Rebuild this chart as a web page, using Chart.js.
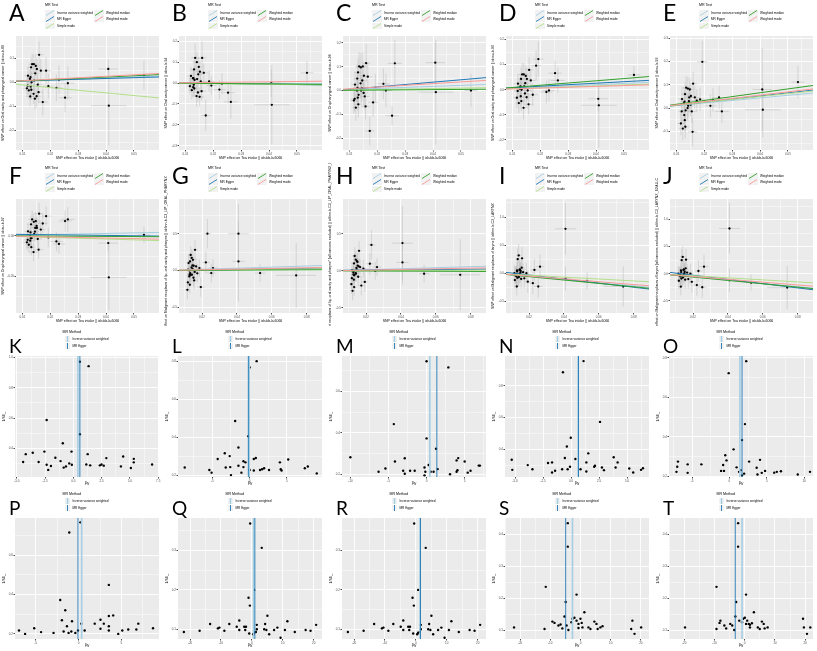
<!DOCTYPE html>
<html>
<head>
<meta charset="utf-8">
<title>MR scatter and funnel plots</title>
<script src="https://cdn.jsdelivr.net/npm/chart.js@4.4.1/dist/chart.umd.min.js"></script>
<style>
  html, body { margin: 0; padding: 0; background: #fff; }
  #fig { position: relative; width: 817px; height: 651px; overflow: hidden; font-family: 'Liberation Sans', Arial, sans-serif; }
  .panel { position: absolute; width: 163px; height: 163px; overflow: hidden; }
  .panel canvas { position: absolute; left: 0; top: 0; }
  .letter { position: absolute; left: 9px; font-family: Lato, 'Open Sans', sans-serif; color: #000; }
  .lg { position: absolute; white-space: nowrap; color: #000; }
  .lg-title { font-size: 3.6px; line-height: 4px; }
  .lg-text { font-size: 3.1px; line-height: 6px; }
  .lg svg { display: block; }
</style>
</head>
<body>
<div id="fig"></div>
<script>
// exposure: SNP effect on Tea intake (ukb-b-6066), panels A-F
const teaBeta = [0.0160, 0.0135, 0.0141, 0.0148, 0.0131, 0.0152, 0.0166, 0.0185, 0.0146, 0.0120, 0.0129, 0.0127, 0.0142, 0.0133, 0.0155, 0.0119, 0.0130, 0.0193, 0.0116, 0.0132, 0.0123, 0.0158, 0.0140, 0.0151, 0.0128, 0.0145, 0.0173, 0.0231, 0.0222, 0.0263, 0.0253, 0.0408, 0.0410, 0.0536];
const teaSe = [0.0015, 0.0014, 0.0015, 0.0016, 0.0014, 0.0016, 0.0017, 0.0018, 0.0015, 0.0013, 0.0014, 0.0014, 0.0015, 0.0014, 0.0016, 0.0013, 0.0014, 0.0019, 0.0013, 0.0014, 0.0013, 0.0016, 0.0015, 0.0016, 0.0014, 0.0015, 0.0017, 0.0022, 0.0022, 0.0025, 0.0024, 0.0035, 0.0064, 0.0023];
// FinnGen outcomes (G-J) keep one more SNP
const teaBetaFinn = [0.0160, 0.0135, 0.0141, 0.0148, 0.0131, 0.0152, 0.0166, 0.0185, 0.0146, 0.0120, 0.0129, 0.0127, 0.0142, 0.0133, 0.0155, 0.0119, 0.0130, 0.0193, 0.0116, 0.0132, 0.0123, 0.0158, 0.0140, 0.0151, 0.0128, 0.0145, 0.0173, 0.0231, 0.0222, 0.0263, 0.0253, 0.0409, 0.0409, 0.0533, 0.0740];
const teaSeFinn = [0.0015, 0.0014, 0.0015, 0.0016, 0.0014, 0.0016, 0.0017, 0.0018, 0.0015, 0.0013, 0.0014, 0.0014, 0.0015, 0.0014, 0.0016, 0.0013, 0.0014, 0.0019, 0.0013, 0.0014, 0.0013, 0.0016, 0.0015, 0.0016, 0.0014, 0.0015, 0.0017, 0.0022, 0.0022, 0.0025, 0.0024, 0.0060, 0.0035, 0.0030, 0.0115];

// outcome SNP effects
const outBetaA = [0.114, 0.075, 0.075, 0.068, 0.062, 0.055, 0.048, 0.048, 0.037, 0.027, 0.021, 0.014, 0.007, 0.000, -0.010, -0.014, -0.018, -0.016, -0.025, -0.031, -0.034, -0.041, -0.048, -0.058, -0.059, -0.068, -0.082, 0.010, -0.023, -0.004, -0.064, 0.055, -0.097, 0.029];
const outSeA = [0.055, 0.045, 0.040, 0.042, 0.040, 0.045, 0.050, 0.055, 0.040, 0.038, 0.040, 0.038, 0.042, 0.040, 0.045, 0.038, 0.040, 0.050, 0.036, 0.040, 0.038, 0.045, 0.042, 0.045, 0.040, 0.045, 0.055, 0.060, 0.055, 0.070, 0.060, 0.040, 0.165, 0.060];
const outBetaB = [0.12, 0.12, 0.10, 0.077, 0.065, 0.054, 0.049, 0.008, 0.042, 0.034, 0.023, 0.023, 0.019, 0.015, 0.008, 0.0, -0.008, -0.012, -0.015, -0.026, -0.034, -0.039, -0.062, -0.066, -0.02, -0.045, -0.155, -0.003, -0.031, -0.09, -0.046, 0.0, -0.104, 0.049];
const outSeB = [0.08, 0.07, 0.05, 0.045, 0.045, 0.045, 0.045, 0.05, 0.04, 0.045, 0.04, 0.045, 0.04, 0.04, 0.045, 0.04, 0.045, 0.045, 0.04, 0.04, 0.045, 0.045, 0.05, 0.045, 0.045, 0.045, 0.075, 0.05, 0.045, 0.08, 0.05, 0.065, 0.19, 0.055];
const outBetaC = [0.115, 0.101, 0.097, 0.101, 0.076, 0.062, 0.058, -0.05, 0.042, 0.025, 0.011, 0, 0, -0.018, -0.025, -0.035, -0.03, 0.01, -0.042, -0.058, -0.072, -0.067, 0.03, -0.01, 0.05, 0.01, -0.17, 0.0, 0.028, 0.114, -0.106, 0.117, -0.007, 0.0];
const outSeC = [0.08, 0.06, 0.06, 0.06, 0.06, 0.06, 0.06, 0.06, 0.055, 0.055, 0.06, 0.055, 0.055, 0.055, 0.055, 0.055, 0.055, 0.06, 0.055, 0.055, 0.055, 0.055, 0.06, 0.055, 0.06, 0.055, 0.06, 0.07, 0.065, 0.1, 0.04, 0.085, 0.22, 0.07];
const outBetaD = [0.079, 0.061, 0.061, 0.055, 0.043, 0.043, 0.037, 0.096, 0.026, 0.024, 0.013, 0.004, 0.013, 0, -0.003, -0.005, -0.026, 0.122, -0.032, -0.045, -0.053, -0.058, -0.072, -0.03, 0.01, -0.015, -0.02, -0.003, -0.009, 0.037, 0.066, -0.036, -0.062, 0.059];
const outSeD = [0.05, 0.045, 0.045, 0.045, 0.045, 0.045, 0.045, 0.06, 0.04, 0.04, 0.045, 0.04, 0.04, 0.04, 0.04, 0.04, 0.04, 0.07, 0.04, 0.04, 0.04, 0.04, 0.045, 0.04, 0.04, 0.04, 0.045, 0.045, 0.045, 0.05, 0.05, 0.05, 0.17, 0.035];
const outBetaE = [0.105, 0.088, 0.084, 0.08, 0.06, 0.052, 0.046, 0.038, 0.046, 0.039, 0.028, 0.021, 0.01, -0.01, -0.014, -0.014, -0.052, 0.199, -0.066, -0.08, -0.088, -0.102, 0.0, 0.015, -0.03, 0.03, 0.032, 0.035, 0.01, -0.014, 0.046, 0.08, -0.007, 0.112];
const outSeE = [0.05, 0.05, 0.05, 0.05, 0.05, 0.05, 0.05, 0.05, 0.05, 0.05, 0.05, 0.05, 0.05, 0.05, 0.05, 0.05, 0.05, 0.09, 0.05, 0.05, 0.05, 0.06, 0.05, 0.05, 0.05, 0.05, 0.05, 0.05, 0.05, 0.05, 0.05, 0.18, 0.12, 0.07];
const outBetaF = [0.027, 0.020, 0.017, 0.018, 0.014, 0.0096, 0.0075, 0.024, 0.0096, 0.0054, 0.0042, 0, 0.002, -0.003, -0.004, -0.005, -0.003, -0.002, -0.008, -0.014, -0.011, -0.017, -0.02, 0.012, -0.006, 0.005, 0.015, -0.010, -0.007, 0.020, 0.018, -0.009, -0.051, 0.001];
const outSeF = [0.013, 0.011, 0.011, 0.011, 0.011, 0.011, 0.011, 0.012, 0.011, 0.01, 0.01, 0.01, 0.01, 0.01, 0.011, 0.01, 0.01, 0.012, 0.01, 0.01, 0.01, 0.011, 0.011, 0.011, 0.01, 0.011, 0.012, 0.012, 0.012, 0.015, 0.013, 0.01, 0.04, 0.01];
const outBetaG = [0.28, 0.21, 0.17, 0.145, 0.123, 0.064, 0.055, 0.032, 0.018, 0.009, -0.059, -0.082, -0.059, -0.059, -0.136, -0.164, -0.195, -0.227, -0.264, -0.036, 0.1, -0.02, 0.04, -0.1, 0.0, 0.07, -0.04, 0.5, 0.109, 0.032, -0.036, 0.5, 0.123, -0.036, -0.068];
const outSeG = [0.13, 0.12, 0.12, 0.12, 0.12, 0.11, 0.11, 0.12, 0.11, 0.11, 0.11, 0.11, 0.11, 0.11, 0.12, 0.12, 0.12, 0.13, 0.13, 0.12, 0.12, 0.11, 0.11, 0.12, 0.11, 0.12, 0.13, 0.2, 0.15, 0.12, 0.13, 0.4, 0.55, 0.12, 0.44];
const outBetaH = [0.27, 0.2, 0.15, 0.13, 0.1, 0.07, 0.05, 0.03, 0.02, 0.01, 0.0, -0.02, -0.04, -0.06, -0.08, -0.1, -0.12, -0.15, -0.18, -0.22, -0.27, 0.06, -0.03, 0.12, -0.05, 0.04, -0.2, 0.35, 0.095, 0.05, 0.0, 0.374, 0.113, -0.04, -0.054];
const outSeH = [0.13, 0.12, 0.12, 0.12, 0.12, 0.11, 0.11, 0.12, 0.11, 0.11, 0.11, 0.11, 0.11, 0.11, 0.12, 0.12, 0.12, 0.13, 0.13, 0.12, 0.13, 0.11, 0.11, 0.12, 0.11, 0.12, 0.13, 0.2, 0.15, 0.12, 0.12, 0.5, 0.3, 0.12, 0.48];
const outBetaI = [0.265, 0.25, 0.318, 0.07, 0.05, 0.04, 0.02, 0.0, -0.01, -0.02, -0.03, -0.05, -0.06, -0.08, -0.1, -0.12, -0.235, -0.15, 0.0, 0.03, -0.04, 0.1, -0.07, 0.01, -0.02, 0.06, -0.09, 0.06, -0.176, 0.118, -0.235, 0.79, -0.094, -0.135, -0.235];
const outSeI = [0.2, 0.2, 0.2, 0.17, 0.17, 0.16, 0.16, 0.18, 0.16, 0.15, 0.16, 0.16, 0.16, 0.16, 0.17, 0.15, 0.16, 0.2, 0.15, 0.16, 0.15, 0.17, 0.16, 0.17, 0.16, 0.16, 0.18, 0.2, 0.2, 0.22, 0.2, 0.46, 0.22, 0.15, 0.36];
const outBetaJ = [0.26, 0.25, 0.31, 0.08, 0.06, 0.04, 0.02, 0.0, -0.01, -0.02, -0.04, -0.05, -0.07, -0.09, -0.11, -0.13, -0.24, -0.15, 0.0, 0.03, -0.03, 0.1, -0.06, 0.01, -0.02, 0.07, -0.1, 0.05, -0.21, 0.13, -0.25, 0.835, -0.122, -0.165, -0.257];
const outSeJ = [0.2, 0.2, 0.2, 0.17, 0.17, 0.16, 0.16, 0.18, 0.16, 0.15, 0.16, 0.16, 0.16, 0.16, 0.17, 0.15, 0.16, 0.2, 0.15, 0.16, 0.15, 0.17, 0.16, 0.17, 0.16, 0.16, 0.18, 0.2, 0.2, 0.22, 0.2, 0.47, 0.22, 0.15, 0.4];

// MR estimates for A-J (lines)
const ivwSlope = [0.44, -0.05, 0.43, 0.5, 1.1, 0.07, 0.75, 0.7, -2.8, -3.0];
const eggerSlope = [0.33, -0.2, 1.0, 0.6, 1.33, -0.04, 0.4, 0.2, -3.6, -3.9];
const eggerIntercept = [0.0025, 0.003, -0.005, 0.002, -0.001, 0.002, -0.005, 0.005, 0.04, 0.05];
const simpleModeSlope = [-1.1, -0.15, 0.2, 0.38, 1.25, -0.1, 0.25, 0.1, -1.7, -1.9];
const weightedMedianSlope = [0.54, -0.1, 0.09, 0.89, 1.65, -0.02, 0.1, -0.1, -3.0, -3.1];
const weightedModeSlope = [0.62, 0.15, 0.72, 0.33, 1.4, -0.07, 0.45, 0.45, -2.5, -2.6];

// axes A-J
const ieuXRange = [0.0077, 0.0590];
const ieuXTicks = [0.01, 0.02, 0.03, 0.04, 0.05];
const finnXRange = [0.0068, 0.0888];
const finnXTicks = [0.02, 0.04, 0.06, 0.08];
const scatterYMin = [-0.281, -0.32, -0.25, -0.24, -0.18, -0.0946, -0.58, -0.57, -0.706, -0.726];
const scatterYMax = [0.192, 0.225, 0.229, 0.214, 0.31, 0.045, 0.973, 0.97, 1.32, 1.38];
const scatterYTicks = [[-0.2, -0.1, 0, 0.1], [-0.3, -0.2, -0.1, 0, 0.1, 0.2], [-0.2, -0.1, 0, 0.1, 0.2], [-0.2, -0.1, 0, 0.1, 0.2], [-0.1, 0, 0.1, 0.2, 0.3], [-0.05, 0], [-0.5, 0, 0.5], [-0.5, 0, 0.5], [-0.5, 0, 0.5, 1.0], [-0.5, 0, 0.5, 1.0]];
const scatterYDecimals = [1, 1, 1, 1, 1, 2, 1, 1, 1, 1];
const scatterLetters = ['A', 'B', 'C', 'D', 'E', 'F', 'G', 'H', 'I', 'J'];
const outcomeLabels = [
  'SNP effect on Oral cavity and pharyngeal cancer || id:ieu-b-89',
  'SNP effect on Oral cavity cancer || id:ieu-b-94',
  'SNP effect on Oropharyngeal cancer || id:ieu-b-96',
  'SNP effect on Oral cavity and pharyngeal cancer || id:ieu-b-90',
  'SNP effect on Oral cavity cancer || id:ieu-b-93',
  'SNP effect on Oropharyngeal cancer || id:ieu-b-97',
  'SNP effect on Malignant neoplasm of lip, oral cavity and pharynx || id:finn-b-C3_LIP_ORAL_PHARYNX',
  'SNP effect on Malignant neoplasm of lip, oral cavity and pharynx* (all cancers excluded) || id:finn-b-C3_LIP_ORAL_PHARYNX_EXALLC',
  'SNP effect on Malignant neoplasm of larynx || id:finn-b-C3_LARYNX',
  'SNP effect on Malignant neoplasm of larynx (all cancers excluded) || id:finn-b-C3_LARYNX_EXALLC'
];
const exposureLabel = 'SNP effect on Tea intake || id:ukb-b-6066';

// funnel plots K-T: beta_IV and 1/SE_IV
const funnelBetaK = [0.57, 1.34, -2.37, 0.57, -0.94, -2.57, -0.17, 1.26, -4.22, -3.6, -1.6, 2.91, 4.4, 5.34, 5.34, -4.45, -3.08, -1.14, -0.37, -0.14, -2.37, -1.99, -2.23, -0.86, -0.66, 1.14, 1.48, 2.34, 2.48, 2.68, 4.2, 5.08, 6.96];
const funnelPrecK = [0.972, 0.943, 0.587, 0.493, 0.433, 0.378, 0.378, 0.361, 0.361, 0.37, 0.337, 0.335, 0.346, 0.33, 0.307, 0.309, 0.309, 0.315, 0.3, 0.291, 0.291, 0.283, 0.257, 0.272, 0.28, 0.293, 0.287, 0.287, 0.293, 0.285, 0.28, 0.27, 0.293];
const funnelBetaL = [0.94, 0, -1.94, -0.17, -1.5, -3.33, -4.28, -2.67, -0.83, -0.56, 0.83, 0.56, 4.06, 5.17, -8.7, -5.4, -5.1, -3.2, -2.5, -2.6, -1.5, -1.1, -0.83, 0, 0.56, 1.39, 1.67, 1.94, 2.6, 4.17, 4.28, 7.4, 7.8, 9.0];
const funnelPrecL = [0.8, 0.767, 0.485, 0.405, 0.345, 0.315, 0.285, 0.3, 0.273, 0.267, 0.29, 0.285, 0.267, 0.282, 0.24, 0.227, 0.213, 0.24, 0.2, 0.242, 0.249, 0.213, 0.242, 0.227, 0.224, 0.227, 0.231, 0.236, 0.227, 0.231, 0.224, 0.236, 0.245, 0.209];
const funnelBetaM = [0, 2.86, -4.3, 0, 1.24, -10, -4.15, -2.86, -6.3, -5.4, -3.07, -2.86, -2.16, -1.56, -0.27, -0.16, 0.27, 0.54, 0.92, -0.27, 1.46, 3.08, 3.94, 4.05, 3.94, 4.15, 5.0, 5.4, 5.77, 6.85, 7.0];
const funnelPrecM = [0.745, 0.715, 0.442, 0.373, 0.323, 0.282, 0.262, 0.277, 0.212, 0.228, 0.217, 0.203, 0.217, 0.217, 0.233, 0.212, 0.245, 0.212, 0.212, 0.195, 0.225, 0.2, 0.212, 0.22, 0.267, 0.278, 0.262, 0.208, 0.217, 0.242, 0.242];
const funnelBetaN = [1.11, -0.73, 2.58, -0.03, -0.38, 1.53, 0.38, 1.36, 3.8, 4.15, -5.3, -3.87, -2.06, -1.7, -0.56, -0.1, -0.31, -0.8, -1.43, -1.7, -5.25, -3.45, 0.84, 1.36, 2.06, 2.13, 2.75, 2.93, 3.97, 5.19, 5.54, 6.24, 6.41];
const funnelPrecN = [0.955, 0.885, 0.572, 0.472, 0.417, 0.374, 0.338, 0.317, 0.349, 0.317, 0.334, 0.3, 0.313, 0.317, 0.345, 0.29, 0.274, 0.274, 0.264, 0.253, 0.27, 0.274, 0.274, 0.26, 0.29, 0.296, 0.285, 0.268, 0.285, 0.279, 0.253, 0.27, 0.28];
const funnelBetaO = [2.25, -0.1, 2.08, 1.69, 0.56, -0.56, -0.39, -0.84, -1.12, -0.73, 0.96, 1.29, 1.52, 1.97, 2.64, 3.65, 3.76, 4.1, 4.33, 4.78, 1.69, -6.9, -7.0, -7.1, -5.6, -5.6, -3.76, 6.0, 6.35, 6.9, 9.16, 10.8];
const funnelPrecO = [0.784, 0.723, 0.465, 0.384, 0.337, 0.307, 0.281, 0.258, 0.228, 0.228, 0.246, 0.223, 0.232, 0.214, 0.275, 0.244, 0.21, 0.284, 0.218, 0.228, 0.205, 0.275, 0.249, 0.223, 0.261, 0.218, 0.261, 0.219, 0.223, 0.226, 0.21, 0.223];
const funnelBetaP = [0.2, -1.1, 3.53, -2.16, -1.57, -1.96, 3.53, 4.04, -1.37, -0.78, 0.31, 1.88, 2.55, 2.94, 3.53, 3.53, 2.55, -1.76, -1.18, -0.86, -0.39, -0.08, 0.7, -6.98, -6.27, -5.2, -4.4, -2.94, 4.63, 5.1, 5.8, 6.75, 6.98, 8.7];
const funnelPrecP = [0.767, 0.715, 0.449, 0.372, 0.32, 0.269, 0.291, 0.294, 0.239, 0.264, 0.252, 0.252, 0.272, 0.252, 0.239, 0.217, 0.226, 0.212, 0.205, 0.212, 0.205, 0.217, 0.217, 0.217, 0.2, 0.229, 0.209, 0.205, 0.2, 0.217, 0.222, 0.222, 0.252, 0.229];
const funnelBetaQ = [-0.54, 3.2, 0.75, -1.07, -0.64, 5.04, -4.07, -13.5, 11.5, -7.3, 4.3, -2.47, -1.9, -4.9, 1.6, -10.5, -11, 8.26, 4.0, 4.7, 1.6, -4.07, -2.14, -8.9, -16.9, 7.2, 10.7, 17.4, 19, 20.8, -0.86, 0.43, 1.3, 0.75, 5.6, 9.3, 13.9, -22];
const funnelPrecQ = [0.369, 0.307, 0.2, 0.18, 0.16, 0.134, 0.122, 0.113, 0.12, 0.113, 0.113, 0.106, 0.106, 0.106, 0.111, 0.104, 0.102, 0.104, 0.1, 0.098, 0.1, 0.098, 0.098, 0.096, 0.096, 0.098, 0.098, 0.098, 0.096, 0.111, 0.089, 0.087, 0.093, 0.091, 0.087, 0.078, 0.093, 0.093];
// R shows the same SNP estimates as Q
const funnelBetaR = funnelBetaQ;
const funnelPrecR = funnelPrecQ;
const funnelBetaS = [-4.2, -4.2, -11.5, -1.3, -4.9, 1.3, -5.3, -9.3, -8.6, -2.65, -2.0, -3.0, -1.3, -0.66, 0, 0.4, -7.3, -6.6, -6.0, -4.6, -4.0, 0.66, 2.65, 4.6, 5.3, 3.3, 5.7, 6.6, 7.3, -0.66, -11.9, -22, 17.2, 16.8, 17.9, 20.1];
const funnelPrecS = [0.434, 0.361, 0.236, 0.212, 0.189, 0.157, 0.144, 0.128, 0.124, 0.137, 0.14, 0.126, 0.131, 0.121, 0.137, 0.124, 0.116, 0.119, 0.107, 0.116, 0.102, 0.11, 0.11, 0.128, 0.121, 0.105, 0.105, 0.11, 0.114, 0.108, 0.105, 0.11, 0.131, 0.105, 0.09, 0.11];
const funnelBetaT = [-2.15, -2.15, -9.3, 0.46, -2.8, 3.06, -3.06, -8.0, -8.3, -0.46, 0.07, -0.85, 0.85, 1.76, -1.76, 0.46, -6.7, -4.75, -6.1, -4.1, -3.45, 1.76, 4.36, 5.7, 6.3, 5.0, 6.6, 7.6, -9.3, -19.7, 19.3, 19.6, 20.6, 21.7, 1.37, 2.4];
const funnelPrecT = [0.434, 0.361, 0.236, 0.212, 0.189, 0.157, 0.144, 0.131, 0.124, 0.137, 0.14, 0.126, 0.131, 0.118, 0.131, 0.121, 0.116, 0.121, 0.107, 0.116, 0.102, 0.11, 0.11, 0.128, 0.121, 0.105, 0.107, 0.11, 0.105, 0.11, 0.137, 0.11, 0.09, 0.11, 0.121, 0.123];

const funnelIvw = [0.4, -0.05, 0.43, 0.62, 1.4, 0.35, 0.54, 1.35, -2.65, -0.85];
const funnelEgger = [0.57, -0.17, 1.35, 0.66, 1.69, -0.08, 0.97, 1.5, -4.9, -3.1];

// axes K-T
const funnelLetters = ['K', 'L', 'M', 'N', 'O', 'P', 'Q', 'R', 'S', 'T'];
const funnelXMin = [-5.17, -9.6, -11.1, -5.9, -8.1, -7.45, -23.9, -23.9, -25, -25];
const funnelXMax = [7.57, 9.7, 7.8, 6.95, 11.2, 9.4, 22.7, 22.7, 22.7, 22.6];
const funnelXTicks = [[-5, -2.5, 0, 2.5, 5, 7.5], [-5, 0, 5], [-10, -5, 0, 5], [-5, -2.5, 0, 2.5, 5], [-5, 0, 5, 10], [-5, 0, 5], [-20, -10, 0, 10, 20], [-20, -10, 0, 10, 20], [-20, -10, 0, 10, 20], [-20, -10, 0, 10, 20]];
const funnelXDecimals = [1, 0, 0, 1, 0, 0, 0, 0, 0, 0];
const funnelYMin = [0.21, 0.19, 0.187, 0.225, 0.197, 0.174, 0.075, 0.075, 0.074, 0.074];
const funnelYMax = [1.01, 0.827, 0.77, 0.987, 0.81, 0.789, 0.383, 0.383, 0.45, 0.45];
const funnelYTicks = [[0.4, 0.6, 0.8, 1.0], [0.2, 0.4, 0.6, 0.8], [0.2, 0.4, 0.6], [0.4, 0.6, 0.8], [0.2, 0.4, 0.6, 0.8], [0.2, 0.4, 0.6], [0.1, 0.2, 0.3], [0.1, 0.2, 0.3], [0.1, 0.2, 0.3, 0.4], [0.1, 0.2, 0.3, 0.4]];

const methodNames = ['Inverse variance weighted', 'MR Egger', 'Simple mode', 'Weighted median', 'Weighted mode'];
const methodColours = ['#a6cee3', '#1f78b4', '#b2df8a', '#33a02c', '#fb9a99'];

const outBeta = [outBetaA, outBetaB, outBetaC, outBetaD, outBetaE, outBetaF, outBetaG, outBetaH, outBetaI, outBetaJ];
const outSe = [outSeA, outSeB, outSeC, outSeD, outSeE, outSeF, outSeG, outSeH, outSeI, outSeJ];
const funnelBeta = [funnelBetaK, funnelBetaL, funnelBetaM, funnelBetaN, funnelBetaO, funnelBetaP, funnelBetaQ, funnelBetaR, funnelBetaS, funnelBetaT];
const funnelPrec = [funnelPrecK, funnelPrecL, funnelPrecM, funnelPrecN, funnelPrecO, funnelPrecP, funnelPrecQ, funnelPrecR, funnelPrecS, funnelPrecT];

const FONT = "'Liberation Sans', Arial, sans-serif";
const fig = document.getElementById('fig');

// ggplot style: major + minor breaks
function gridTicks(min, max, majors) {
  const half = (majors[1] - majors[0]) / 2;
  const out = [];
  const k0 = Math.ceil((min - majors[0]) / half - 1e-6);
  const k1 = Math.floor((max - majors[0]) / half + 1e-6);
  for (let k = k0; k <= k1; k++) {
    let v = majors[0] + k * half;
    if (Math.abs(v) < 1e-9) v = 0;
    out.push({ value: v, isMajor: k % 2 === 0 });
  }
  return out;
}

function axis(min, max, majors, decimals, title, isX, fit) {
  return {
    type: 'linear', min: min, max: max,
    afterBuildTicks: s => { s.ticks = gridTicks(min, max, majors); },
    afterFit: s => {
      if (isX) { s.height = fit; s.paddingLeft = 0; s.paddingRight = 0; }
      else { s.width = fit; s.paddingTop = 0; s.paddingBottom = 0; }
    },
    border: { display: false },
    grid: {
      color: '#FFFFFF',
      lineWidth: c => (c.tick && c.tick.isMajor) ? 0.9 : 0.45,
      tickLength: 1.5,
      tickColor: c => (c.tick && c.tick.isMajor) ? '#333333' : 'rgba(0,0,0,0)'
    },
    ticks: {
      autoSkip: false, maxRotation: 0, padding: 0.5, color: '#4D4D4D',
      font: { size: 3, family: FONT },
      callback: (v, i, t) => t[i].isMajor ? v.toFixed(decimals) : ''
    },
    title: title ? {
      display: true, text: title, color: '#000',
      font: { size: 3.5, family: FONT },
      padding: isX ? { top: 0, bottom: 3.3 } : { top: 1.2, bottom: 0 }
    } : { display: false }
  };
}

const panelBg = {
  id: 'panelBg',
  beforeDraw(chart) {
    const { ctx, chartArea: a } = chart;
    ctx.save();
    ctx.fillStyle = '#EBEBEB';
    ctx.fillRect(a.left, a.top, a.right - a.left, a.bottom - a.top);
    ctx.restore();
  }
};

function errorBars(bx, sx, by, sy) {
  return {
    id: 'errorBars',
    beforeDatasetsDraw(chart) {
      const { ctx, chartArea: a } = chart;
      const x = chart.scales.x, y = chart.scales.y;
      ctx.save();
      ctx.beginPath();
      ctx.rect(a.left, a.top, a.right - a.left, a.bottom - a.top);
      ctx.clip();
      ctx.strokeStyle = '#BEBEBE';
      ctx.lineWidth = 0.55;
      ctx.beginPath();
      bx.forEach((v, i) => {
        const px = x.getPixelForValue(v), py = y.getPixelForValue(by[i]);
        ctx.moveTo(px, y.getPixelForValue(by[i] - sy[i]));
        ctx.lineTo(px, y.getPixelForValue(by[i] + sy[i]));
        ctx.moveTo(x.getPixelForValue(v - sx[i]), py);
        ctx.lineTo(x.getPixelForValue(v + sx[i]), py);
      });
      ctx.stroke();
      ctx.restore();
    }
  };
}

function drawSub(ctx, main, sub, cx, y, size) {
  ctx.font = size + 'px ' + FONT;
  const w1 = ctx.measureText(main).width;
  ctx.font = (size * 0.7) + 'px ' + FONT;
  const w2 = ctx.measureText(sub).width;
  const x0 = cx - (w1 + w2) / 2;
  ctx.textAlign = 'left';
  ctx.font = size + 'px ' + FONT;
  ctx.fillText(main, x0, y);
  ctx.font = (size * 0.7) + 'px ' + FONT;
  ctx.fillText(sub, x0 + w1, y + size * 0.3);
}

const funnelTitles = {
  id: 'funnelTitles',
  afterDraw(chart) {
    const { ctx, chartArea: a } = chart;
    ctx.save();
    ctx.fillStyle = '#000';
    ctx.textBaseline = 'alphabetic';
    drawSub(ctx, '\u03B2', 'IV', (a.left + a.right) / 2, 158, 3.8);
    ctx.translate(4.6, (a.top + a.bottom) / 2);
    ctx.rotate(-Math.PI / 2);
    drawSub(ctx, '1/SE', 'IV', 0, 0, 3.5);
    ctx.restore();
  }
};

function makePanel(row, col, letter, funnel) {
  const el = document.createElement('div');
  el.className = 'panel';
  el.style.left = Math.round(col * 163.4) + 'px';
  el.style.top = Math.round(row * 162.75) + 'px';
  const cv = document.createElement('canvas');
  cv.width = 163; cv.height = 163;
  el.appendChild(cv);
  const lt = document.createElement('div');
  lt.className = 'letter';
  lt.textContent = letter;
  const fs = funnel ? 19 : 23;
  lt.style.fontSize = fs + 'px';
  lt.style.lineHeight = fs + 'px';
  lt.style.top = (funnel ? 10 : 1) + 'px';
  el.appendChild(lt);
  fig.appendChild(el);
  return { el, cv };
}

function addBox(el, cls, html, left, top) {
  const d = document.createElement('div');
  d.className = 'lg ' + cls;
  d.innerHTML = html;
  d.style.left = left + 'px';
  d.style.top = top + 'px';
  el.appendChild(d);
}

function scatterLegend(el) {
  addBox(el, 'lg-title', 'MR Test', 45, 3);
  methodNames.forEach((name, m) => {
    const col = m < 3 ? 0 : 1, row = m < 3 ? m : m - 3;
    const left = col ? 94 : 45, top = 9.6 + row * 6.6;
    addBox(el, '', '<svg width="10" height="6"><rect width="10" height="6" fill="#F2F2F2"/>' +
      '<line x1="1" y1="5.5" x2="9" y2="0.5" stroke="' + methodColours[m] + '" stroke-width="0.9"/></svg>', left, top);
    addBox(el, 'lg-text', name, left + 12, top);
  });
}

function funnelLegend(el) {
  addBox(el, 'lg-title', 'MR Method', 62.5, 4);
  [0, 1].forEach(m => {
    const top = 10.3 + m * 6.7;
    addBox(el, '', '<svg width="5" height="6"><rect width="5" height="6" fill="#F2F2F2"/>' +
      '<line x1="2.5" y1="0" x2="2.5" y2="6" stroke="' + methodColours[m] + '" stroke-width="' + (m ? 0.9 : 1.5) + '"/></svg>', 65, top);
    addBox(el, 'lg-text', methodNames[m], 72.5, top);
  });
}

// scatter panels A-J
scatterLetters.forEach((letter, p) => {
  const finn = p >= 6;
  const bx = finn ? teaBetaFinn : teaBeta;
  const sx = finn ? teaSeFinn : teaSe;
  const by = outBeta[p], sy = outSe[p];
  const xr = finn ? finnXRange : ieuXRange;
  const xt = finn ? finnXTicks : ieuXTicks;
  const { el, cv } = makePanel(Math.floor(p / 5), p % 5, letter, false);
  const fits = [
    { s: ivwSlope[p], a: 0 },
    { s: eggerSlope[p], a: eggerIntercept[p] },
    { s: simpleModeSlope[p], a: 0 },
    { s: weightedMedianSlope[p], a: 0 },
    { s: weightedModeSlope[p], a: 0 }
  ];
  const lines = fits.map((f, m) => ({
    type: 'line',
    data: xr.map(x => ({ x: x, y: f.a + f.s * x })),
    borderColor: methodColours[m], borderWidth: 1, pointRadius: 0, fill: false, tension: 0,
    order: 5 - m
  }));
  new Chart(cv, {
    type: 'scatter',
    data: {
      datasets: [{
        data: bx.map((v, i) => ({ x: v, y: by[i] })),
        pointRadius: 1.15, pointBackgroundColor: '#000', pointBorderWidth: 0, order: 10
      }].concat(lines)
    },
    options: {
      responsive: false, animation: false, events: [],
      layout: { padding: { top: 36, left: 0, right: 1, bottom: 0 } },
      plugins: { legend: { display: false }, tooltip: { enabled: false } },
      scales: {
        x: axis(xr[0], xr[1], xt, 2, exposureLabel, true, 13),
        y: axis(scatterYMin[p], scatterYMax[p], scatterYTicks[p], scatterYDecimals[p], outcomeLabels[p], false, 16)
      }
    },
    plugins: [panelBg, errorBars(bx, sx, by, sy)]
  });
  scatterLegend(el);
});

// funnel panels K-T
funnelLetters.forEach((letter, p) => {
  const { el, cv } = makePanel(2 + Math.floor(p / 5), p % 5, letter, true);
  const yr = [funnelYMin[p], funnelYMax[p]];
  const bx = funnelBeta[p], pr = funnelPrec[p];
  new Chart(cv, {
    type: 'scatter',
    data: {
      datasets: [
        { data: bx.map((v, i) => ({ x: v, y: pr[i] })), pointRadius: 1.2, pointBackgroundColor: '#000', pointBorderWidth: 0, order: 10 },
        { type: 'line', data: yr.map(y => ({ x: funnelIvw[p], y: y })), borderColor: methodColours[0], borderWidth: 1.6, pointRadius: 0, order: 2 },
        { type: 'line', data: yr.map(y => ({ x: funnelEgger[p], y: y })), borderColor: methodColours[1], borderWidth: 0.9, pointRadius: 0, order: 1 }
      ]
    },
    options: {
      responsive: false, animation: false, events: [],
      layout: { padding: { top: 30, left: 0, right: 3, bottom: 0 } },
      plugins: { legend: { display: false }, tooltip: { enabled: false } },
      scales: {
        x: axis(funnelXMin[p], funnelXMax[p], funnelXTicks[p], funnelXDecimals[p], null, true, 12),
        y: axis(yr[0], yr[1], funnelYTicks[p], 1, null, false, 15)
      }
    },
    plugins: [panelBg, funnelTitles]
  });
  funnelLegend(el);
});
</script>
</body>
</html>
